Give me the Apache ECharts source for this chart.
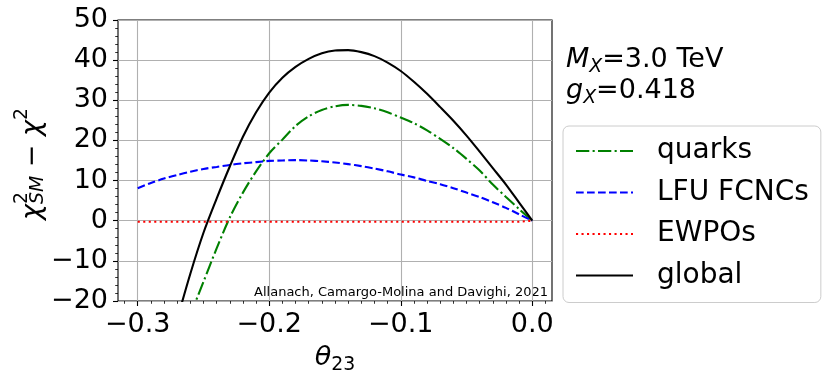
<!DOCTYPE html>
<html><head><meta charset="utf-8">
<script src="https://cdn.jsdelivr.net/npm/echarts@6/dist/echarts.min.js"></script>
<style>html,body{margin:0;padding:0;background:#fff}#c{width:830px;height:381px}</style>
</head><body><div id="c"></div>
<script>
// ---- data ----
const theta = [-0.30,-0.29,-0.28,-0.27,-0.26,-0.25,-0.24,-0.23,-0.22,-0.21,-0.20,-0.19,-0.18,-0.17,-0.16,-0.15,-0.14,-0.13,-0.12,-0.11,-0.10,-0.09,-0.08,-0.07,-0.06,-0.05,-0.04,-0.03,-0.02,-0.01,0.00];
const quarks = [null,null,null,null,-23.5,-15.2,-6.9,0.8,7.0,12.3,16.8,20.2,23.6,26.0,27.6,28.5,28.85,28.6,28.0,27.0,25.7,24.3,22.5,20.4,18.1,15.4,12.5,9.0,5.9,2.9,0];
const lfu = [8.1,9.4,10.5,11.4,12.2,12.9,13.4,13.9,14.3,14.6,14.9,15.0,15.1,15.0,14.8,14.5,14.1,13.6,13.0,12.3,11.5,10.8,9.9,9.1,8.1,7.0,5.9,4.6,3.2,1.6,0];
const ewpo = [-0.25,-0.25,-0.25,-0.25,-0.25,-0.25,-0.25,-0.25,-0.25,-0.25,-0.25,-0.25,-0.25,-0.25,-0.25,-0.25,-0.25,-0.25,-0.25,-0.25,-0.25,-0.25,-0.25,-0.25,-0.25,-0.25,-0.25,-0.25,-0.25,-0.25,0];
const globalFit = [null,null,null,-24.6,-13.2,-3.0,5.5,13.5,20.9,27.0,31.9,35.6,38.3,40.3,41.7,42.4,42.5,42.0,41.0,39.4,37.3,34.6,31.6,28.3,24.9,21.2,17.2,13.1,9.0,4.5,0];
const seriesNames = ['quarks','LFU FCNCs','EWPOs','global'];
const xMajorTicks = [-0.3,-0.2,-0.1,0.0];
const xMinorTicks = [-0.31,-0.29,-0.28,-0.27,-0.26,-0.25,-0.24,-0.23,-0.22,-0.21,-0.19,-0.18,-0.17,-0.16,-0.15,-0.14,-0.13,-0.12,-0.11,-0.09,-0.08,-0.07,-0.06,-0.05,-0.04,-0.03,-0.02,-0.01,0.01];
const credit = 'Allanach, Camargo-Molina and Davighi, 2021';

// ---- helpers ----
const FAM = '"DejaVu Sans"';
const cv = document.createElement('canvas').getContext('2d');
function fontStr(s, it){ return (it ? 'italic ' : '') + s + 'px ' + FAM; }
function tw(t, s, it){ cv.font = fontStr(s, it); return cv.measureText(t).width; }
function midToBase(s){ cv.font = fontStr(s, false); cv.textBaseline = 'middle'; const m = cv.measureText('H'); cv.textBaseline = 'alphabetic'; return m.actualBoundingBoxDescent; }
function mathRow(parts, size){
  let x = 0, pend = 0; const kids = [];
  parts.forEach(p => {
    const s = size * (p.sc || 1), it = !!p.it;
    kids.push({type:'text', x:x, y:(p.dy||0)*size - midToBase(s), silent:true,
      style:{text:p.t, font:fontStr(s,it), fill:'#000', align:'left', verticalAlign:'middle', textAlign:'left', textVerticalAlign:'middle'}});
    const w = tw(p.t, s, it);
    if (p.stack) pend = Math.max(pend, w); else { x += Math.max(w, pend); pend = 0; }
  });
  return {kids, width:x};
}
function mathGroup(parts, size, x, y, opts){
  opts = opts || {};
  const r = mathRow(parts, size);
  const off = opts.center ? -r.width/2 : 0;
  r.kids.forEach(k => k.x += off);
  return {type:'group', x:x, y:y, rotation:opts.rotation||0, children:r.kids, silent:true};
}
function pairs(v){ const out=[]; theta.forEach((t,i)=>{ if (v[i]!==null) out.push([t, v[i]]); }); return out; }
const fmtMinus = v => (v < 0 ? '\u2212' + Math.abs(v) : String(v));

const FS = 27;
const chart = echarts.init(document.getElementById('c'), null, {renderer:'canvas'});
const option = {
  animation:false,
  backgroundColor:'#fff',
  textStyle:{fontFamily:FAM},
  grid:[
    {left:118, top:20, width:434, height:281, show:true, borderColor:'#000', borderWidth:1.1, backgroundColor:'transparent'},
    {left:118, top:20, width:434, height:281, show:false}
  ],
  xAxis:[
    {type:'value', gridIndex:0, min:-0.315, max:0.015, position:'bottom',
     axisLine:{show:false, onZero:false},
     axisTick:{show:true, customValues:xMajorTicks, length:5, lineStyle:{color:'#000', width:1.1}},
     axisLabel:{show:true, customValues:xMajorTicks, margin:10, fontSize:FS, color:'#000', fontFamily:FAM,
       formatter: v => (Math.abs(v) < 1e-9 ? '0.0' : '\u2212' + Math.abs(v).toFixed(1))},
     splitLine:{show:true, lineStyle:{color:'#b0b0b0', width:1.1}}},
    {type:'value', gridIndex:1, min:-0.315, max:0.015, position:'bottom',
     axisLine:{show:false, onZero:false},
     axisTick:{show:true, customValues:xMinorTicks, length:2.8, lineStyle:{color:'#000', width:0.8}},
     axisLabel:{show:false}, splitLine:{show:false}}
  ],
  yAxis:[
    {type:'value', gridIndex:0, min:-20, max:50, interval:10, position:'left',
     axisLine:{show:false, onZero:false},
     axisTick:{show:true, length:5, lineStyle:{color:'#000', width:1.1}},
     minorTick:{show:true, splitNumber:5, length:2.8, lineStyle:{color:'#000', width:0.8}},
     axisLabel:{margin:10, fontSize:FS, color:'#000', fontFamily:FAM, formatter:fmtMinus},
     splitLine:{show:true, lineStyle:{color:'#b0b0b0', width:1.1}}},
    {type:'value', gridIndex:1, min:-20, max:50, position:'left', axisLine:{show:false, onZero:false},
     axisTick:{show:false}, axisLabel:{show:false}, splitLine:{show:false}}
  ],
  legend:{
    orient:'vertical', left:563, top:126,
    padding:[10,12,12,12], itemGap:11.5, itemWidth:57, itemHeight:14,
    backgroundColor:'#fff', borderColor:'#cccccc', borderWidth:1, borderRadius:6,
    itemStyle:{opacity:0, borderWidth:0},
    textStyle:{fontSize:28, color:'#000', fontFamily:FAM, lineHeight:30, padding:[0,0,0,19]},
    data:seriesNames
  },
  graphic:[
    mathGroup([{t:'\u03c7',it:true},{t:'2',sc:0.7,dy:-0.48,stack:true},{t:'SM',it:true,sc:0.7,dy:0.12},{t:' \u2212 '},{t:'\u03c7',it:true},{t:'2',sc:0.7,dy:-0.48}], FS, 40, 164, {center:true, rotation:Math.PI/2}),
    mathGroup([{t:'\u03b8',it:true},{t:'23',sc:0.7,dy:0.19}], FS, 335, 365, {center:true}),
    mathGroup([{t:'M',it:true},{t:'X',it:true,sc:0.7,dy:0.19},{t:'=3.0 TeV'}], FS, 566, 67),
    mathGroup([{t:'g',it:true},{t:'X',it:true,sc:0.7,dy:0.19},{t:'=0.418'}], FS, 566, 98),
    {type:'text', right:830-548, top:286, silent:true,
     style:{text:credit, font:'13px ' + FAM, fill:'#000'}}
  ],
  series:[
    {name:seriesNames[0], type:'line', data:pairs(quarks), showSymbol:false, symbol:'none', smooth:0.3, clip:true,
     lineStyle:{color:'#008000', width:2.1, type:[13.3,3.3,2.1,3.3]}, itemStyle:{color:'#008000'}},
    {name:seriesNames[1], type:'line', data:pairs(lfu), showSymbol:false, symbol:'none', smooth:0.3, clip:true,
     lineStyle:{color:'#0000ff', width:2.1, type:[7.7,3.3]}, itemStyle:{color:'#0000ff'}},
    {name:seriesNames[2], type:'line', data:pairs(ewpo), showSymbol:false, symbol:'none', smooth:false, clip:true,
     lineStyle:{color:'#ff0000', width:2.1, type:[2.1,3.4]}, itemStyle:{color:'#ff0000'}},
    {name:seriesNames[3], type:'line', data:pairs(globalFit), showSymbol:false, symbol:'none', smooth:0.3, clip:true,
     lineStyle:{color:'#000000', width:2.1, type:'solid'}, itemStyle:{color:'#000000'}}
  ]
};
chart.setOption(option);
</script></body></html>
